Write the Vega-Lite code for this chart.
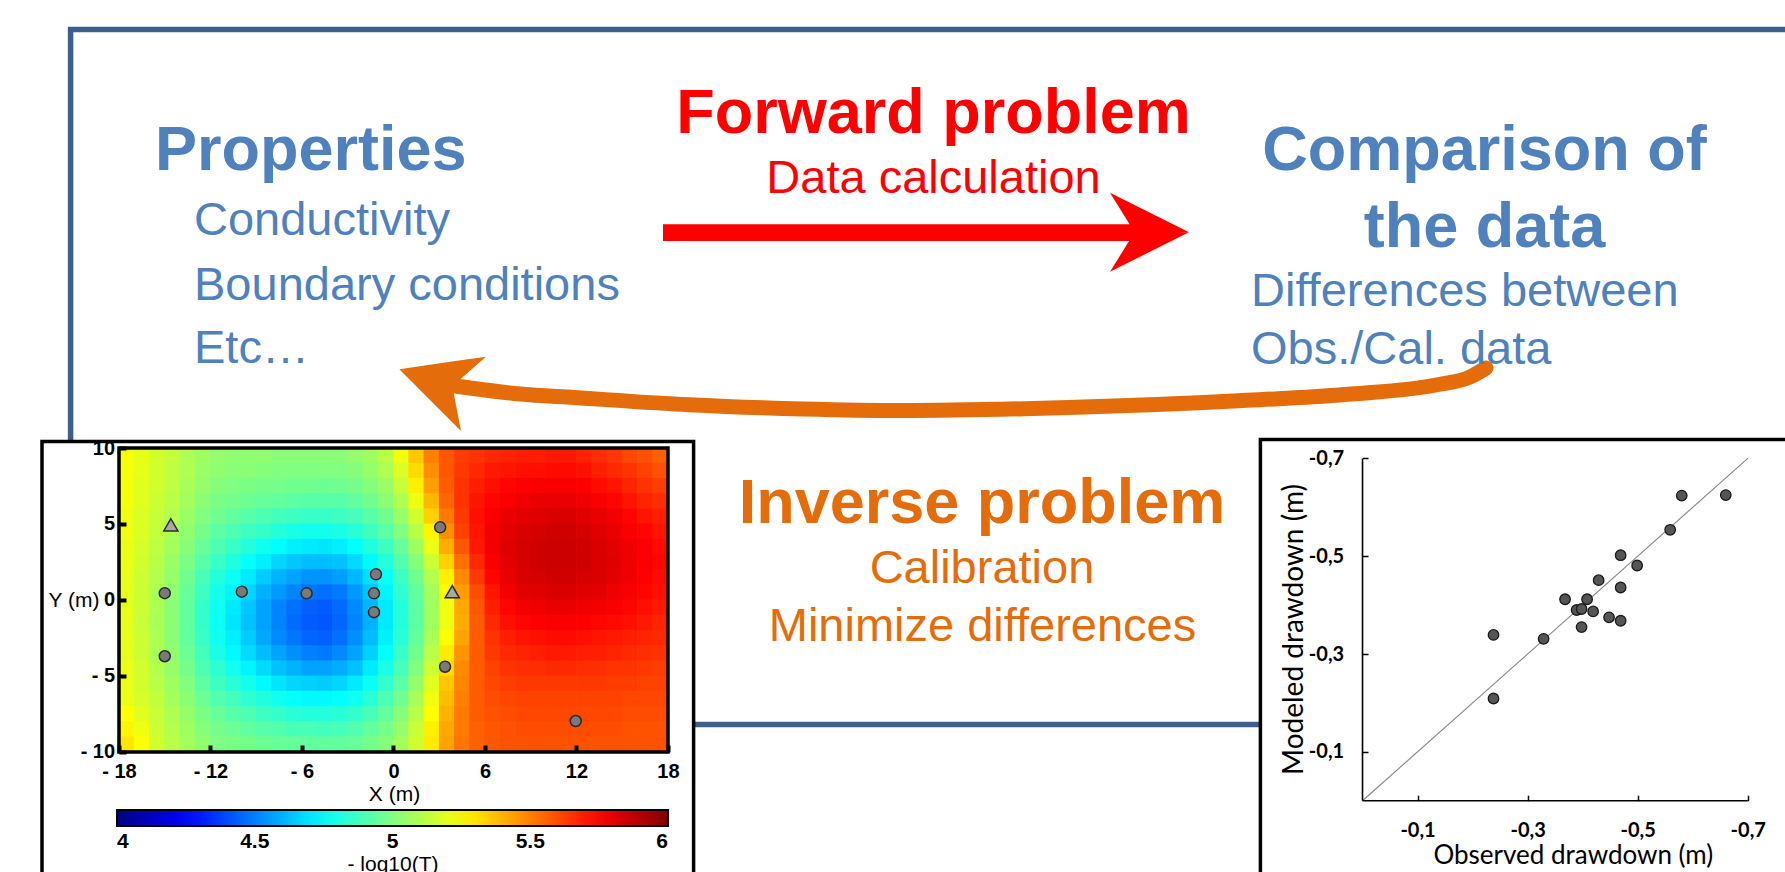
{
"$schema": "https://vega.github.io/schema/vega-lite/v6.json",
"width": 1785, "height": 872, "padding": 0, "autosize": {"type": "none"},
"background": "white",
"config": {"view": {"stroke": null}, "font": "Liberation Sans"},
"datasets": {
"frame": [{"x": 70.6, "x2": 1840, "y": 29.5, "y2": 724.5}],
"panels": [{"x": 42, "x2": 693.6, "y": 441.5, "y2": 905}, {"x": 1260.4, "x2": 1840, "y": 439.5, "y2": 905}],
"shafts": [{"x": 663, "x2": 1136, "y": 224.3, "y2": 241, "tone": "red"}],
"curve": [{"x": 452, "y": 385.5, "tone": "orange"}, {"x": 520, "y": 394, "tone": "orange"}, {"x": 574, "y": 397.5, "tone": "orange"}, {"x": 689, "y": 404.8, "tone": "orange"}, {"x": 803.6, "y": 409, "tone": "orange"}, {"x": 900, "y": 410.5, "tone": "orange"}, {"x": 1069, "y": 407.5, "tone": "orange"}, {"x": 1238.6, "y": 400.8, "tone": "orange"}, {"x": 1351.5, "y": 394, "tone": "orange"}, {"x": 1436, "y": 385, "tone": "orange"}, {"x": 1470, "y": 377, "tone": "orange"}, {"x": 1486, "y": 368, "tone": "orange"}],
"heads": [
{"x": 1110, "y": 192.7, "y2": 192.7, "part": "r1", "tone": "red"}, {"x": 1135, "y": 205.2, "y2": 233, "part": "r1", "tone": "red"}, {"x": 1189, "y": 232.3, "y2": 232.3, "part": "r1", "tone": "red"},
{"x": 1110, "y": 271.7, "y2": 271.7, "part": "r2", "tone": "red"}, {"x": 1135, "y": 231.6, "y2": 259.2, "part": "r2", "tone": "red"}, {"x": 1189, "y": 232.3, "y2": 232.3, "part": "r2", "tone": "red"},
{"x": 399.3, "y": 369.3, "y2": 369.3, "part": "o1", "tone": "orange"}, {"x": 452, "y": 361.6, "y2": 386.5, "part": "o1", "tone": "orange"}, {"x": 486, "y": 356.7, "y2": 356.7, "part": "o1", "tone": "orange"},
{"x": 399.3, "y": 369.3, "y2": 369.3, "part": "o2", "tone": "orange"}, {"x": 452, "y": 384.5, "y2": 422, "part": "o2", "tone": "orange"}, {"x": 461, "y": 431, "y2": 431, "part": "o2", "tone": "orange"}
],
"labels": [
{"text": "Properties", "x": 310.8, "y": 170, "level": "title", "tone": "blue"},
{"text": "Conductivity", "x": 194, "y": 235, "level": "detail", "tone": "blue"},
{"text": "Boundary conditions", "x": 194, "y": 300, "level": "detail", "tone": "blue"},
{"text": "Etc…", "x": 194, "y": 363, "level": "detail", "tone": "blue"},
{"text": "Forward problem", "x": 933.5, "y": 133, "level": "title", "tone": "red"},
{"text": "Data calculation", "x": 933.5, "y": 193, "level": "detail", "tone": "red"},
{"text": "Comparison of", "x": 1484.5, "y": 170, "level": "title", "tone": "blue"},
{"text": "the data", "x": 1484.5, "y": 246.7, "level": "title", "tone": "blue"},
{"text": "Differences between", "x": 1251, "y": 306, "level": "detail", "tone": "blue"},
{"text": "Obs./Cal. data", "x": 1251, "y": 364, "level": "detail", "tone": "blue"},
{"text": "Inverse problem", "x": 982, "y": 522.7, "level": "title", "tone": "orange"},
{"text": "Calibration", "x": 982, "y": 583.3, "level": "detail", "tone": "orange"},
{"text": "Minimize differences", "x": 982.5, "y": 641, "level": "detail", "tone": "orange"}
],
"heatFrame": [{"x": -18, "x2": 18, "y": -10, "y2": 10}],
"wells": [
{"x": -15, "y": 0.45, "kind": "observation"}, {"x": -15, "y": -3.7, "kind": "observation"}, {"x": -9.95, "y": 0.55, "kind": "observation"}, {"x": -5.7, "y": 0.44, "kind": "observation"}, {"x": -1.15, "y": 1.69, "kind": "observation"}, {"x": -1.28, "y": 0.44, "kind": "observation"}, {"x": -1.28, "y": -0.8, "kind": "observation"}, {"x": 3.06, "y": 4.78, "kind": "observation"}, {"x": 3.38, "y": -4.39, "kind": "observation"}, {"x": 11.95, "y": -7.96, "kind": "observation"},
{"x": -14.6, "y": 4.95, "kind": "pumping"}, {"x": 3.85, "y": 0.55, "kind": "pumping"}
],
"drawdown": [
{"obs": -0.238, "mod": -0.339}, {"obs": -0.238, "mod": -0.209}, {"obs": -0.329, "mod": -0.331}, {"obs": -0.368, "mod": -0.412}, {"obs": -0.389, "mod": -0.39}, {"obs": -0.398, "mod": -0.392}, {"obs": -0.398, "mod": -0.355}, {"obs": -0.408, "mod": -0.412}, {"obs": -0.419, "mod": -0.387}, {"obs": -0.429, "mod": -0.451}, {"obs": -0.448, "mod": -0.375}, {"obs": -0.469, "mod": -0.368}, {"obs": -0.469, "mod": -0.436}, {"obs": -0.469, "mod": -0.502}, {"obs": -0.499, "mod": -0.481}, {"obs": -0.559, "mod": -0.554}, {"obs": -0.58, "mod": -0.624}, {"obs": -0.66, "mod": -0.625}
],
"scatterGuides": [
{"obs": 0, "mod": 0, "obs2": -0.7, "mod2": -0.7, "kind": "diag"},
{"obs": 0, "mod": 0, "obs2": -0.7, "mod2": 0, "kind": "axis"},
{"obs": 0, "mod": 0, "obs2": 0, "mod2": -0.7, "kind": "axis"}
],
"heat": [
{"x":-17.5,"y":9.5,"v":5.23},{"x":-16.5,"y":9.5,"v":5.2},{"x":-15.5,"y":9.5,"v":5.16},{"x":-14.5,"y":9.5,"v":5.13},{"x":-13.5,"y":9.5,"v":5.09},{"x":-12.5,"y":9.5,"v":5.06},{"x":-11.5,"y":9.5,"v":5.04},{"x":-10.5,"y":9.5,"v":5.03},{"x":-9.5,"y":9.5,"v":5.03},{"x":-8.5,"y":9.5,"v":5.03},{"x":-7.5,"y":9.5,"v":5.02},{"x":-6.5,"y":9.5,"v":5.02},{"x":-5.5,"y":9.5,"v":5.02},{"x":-4.5,"y":9.5,"v":5.02},{"x":-3.5,"y":9.5,"v":5.02},{"x":-2.5,"y":9.5,"v":5.04},{"x":-1.5,"y":9.5,"v":5.06},{"x":-0.5,"y":9.5,"v":5.11},{"x":0.5,"y":9.5,"v":5.22},{"x":1.5,"y":9.5,"v":5.36},{"x":2.5,"y":9.5,"v":5.5},{"x":3.5,"y":9.5,"v":5.58},{"x":4.5,"y":9.5,"v":5.63},{"x":5.5,"y":9.5,"v":5.65},{"x":6.5,"y":9.5,"v":5.67},{"x":7.5,"y":9.5,"v":5.68},{"x":8.5,"y":9.5,"v":5.69},{"x":9.5,"y":9.5,"v":5.69},{"x":10.5,"y":9.5,"v":5.7},{"x":11.5,"y":9.5,"v":5.7},{"x":12.5,"y":9.5,"v":5.68},{"x":13.5,"y":9.5,"v":5.66},{"x":14.5,"y":9.5,"v":5.64},{"x":15.5,"y":9.5,"v":5.61},{"x":16.5,"y":9.5,"v":5.59},{"x":17.5,"y":9.5,"v":5.56},
{"x":-17.5,"y":8.5,"v":5.23},{"x":-16.5,"y":8.5,"v":5.2},{"x":-15.5,"y":8.5,"v":5.16},{"x":-14.5,"y":8.5,"v":5.12},{"x":-13.5,"y":8.5,"v":5.09},{"x":-12.5,"y":8.5,"v":5.05},{"x":-11.5,"y":8.5,"v":5.03},{"x":-10.5,"y":8.5,"v":5.02},{"x":-9.5,"y":8.5,"v":5.02},{"x":-8.5,"y":8.5,"v":5.01},{"x":-7.5,"y":8.5,"v":5.0},{"x":-6.5,"y":8.5,"v":5.0},{"x":-5.5,"y":8.5,"v":5.0},{"x":-4.5,"y":8.5,"v":5.0},{"x":-3.5,"y":8.5,"v":5.0},{"x":-2.5,"y":8.5,"v":5.01},{"x":-1.5,"y":8.5,"v":5.04},{"x":-0.5,"y":8.5,"v":5.09},{"x":0.5,"y":8.5,"v":5.18},{"x":1.5,"y":8.5,"v":5.32},{"x":2.5,"y":8.5,"v":5.47},{"x":3.5,"y":8.5,"v":5.58},{"x":4.5,"y":8.5,"v":5.64},{"x":5.5,"y":8.5,"v":5.67},{"x":6.5,"y":8.5,"v":5.7},{"x":7.5,"y":8.5,"v":5.71},{"x":8.5,"y":8.5,"v":5.72},{"x":9.5,"y":8.5,"v":5.72},{"x":10.5,"y":8.5,"v":5.73},{"x":11.5,"y":8.5,"v":5.73},{"x":12.5,"y":8.5,"v":5.72},{"x":13.5,"y":8.5,"v":5.69},{"x":14.5,"y":8.5,"v":5.67},{"x":15.5,"y":8.5,"v":5.65},{"x":16.5,"y":8.5,"v":5.62},{"x":17.5,"y":8.5,"v":5.59},
{"x":-17.5,"y":7.5,"v":5.23},{"x":-16.5,"y":7.5,"v":5.19},{"x":-15.5,"y":7.5,"v":5.16},{"x":-14.5,"y":7.5,"v":5.12},{"x":-13.5,"y":7.5,"v":5.08},{"x":-12.5,"y":7.5,"v":5.04},{"x":-11.5,"y":7.5,"v":5.01},{"x":-10.5,"y":7.5,"v":5.0},{"x":-9.5,"y":7.5,"v":4.99},{"x":-8.5,"y":7.5,"v":4.98},{"x":-7.5,"y":7.5,"v":4.98},{"x":-6.5,"y":7.5,"v":4.97},{"x":-5.5,"y":7.5,"v":4.97},{"x":-4.5,"y":7.5,"v":4.96},{"x":-3.5,"y":7.5,"v":4.97},{"x":-2.5,"y":7.5,"v":4.98},{"x":-1.5,"y":7.5,"v":5.01},{"x":-0.5,"y":7.5,"v":5.05},{"x":0.5,"y":7.5,"v":5.14},{"x":1.5,"y":7.5,"v":5.28},{"x":2.5,"y":7.5,"v":5.44},{"x":3.5,"y":7.5,"v":5.57},{"x":4.5,"y":7.5,"v":5.65},{"x":5.5,"y":7.5,"v":5.69},{"x":6.5,"y":7.5,"v":5.72},{"x":7.5,"y":7.5,"v":5.74},{"x":8.5,"y":7.5,"v":5.75},{"x":9.5,"y":7.5,"v":5.76},{"x":10.5,"y":7.5,"v":5.76},{"x":11.5,"y":7.5,"v":5.76},{"x":12.5,"y":7.5,"v":5.75},{"x":13.5,"y":7.5,"v":5.73},{"x":14.5,"y":7.5,"v":5.71},{"x":15.5,"y":7.5,"v":5.68},{"x":16.5,"y":7.5,"v":5.65},{"x":17.5,"y":7.5,"v":5.63},
{"x":-17.5,"y":6.5,"v":5.23},{"x":-16.5,"y":6.5,"v":5.19},{"x":-15.5,"y":6.5,"v":5.15},{"x":-14.5,"y":6.5,"v":5.11},{"x":-13.5,"y":6.5,"v":5.07},{"x":-12.5,"y":6.5,"v":5.02},{"x":-11.5,"y":6.5,"v":4.99},{"x":-10.5,"y":6.5,"v":4.98},{"x":-9.5,"y":6.5,"v":4.96},{"x":-8.5,"y":6.5,"v":4.95},{"x":-7.5,"y":6.5,"v":4.94},{"x":-6.5,"y":6.5,"v":4.93},{"x":-5.5,"y":6.5,"v":4.92},{"x":-4.5,"y":6.5,"v":4.92},{"x":-3.5,"y":6.5,"v":4.92},{"x":-2.5,"y":6.5,"v":4.94},{"x":-1.5,"y":6.5,"v":4.97},{"x":-0.5,"y":6.5,"v":5.02},{"x":0.5,"y":6.5,"v":5.09},{"x":1.5,"y":6.5,"v":5.22},{"x":2.5,"y":6.5,"v":5.39},{"x":3.5,"y":6.5,"v":5.55},{"x":4.5,"y":6.5,"v":5.65},{"x":5.5,"y":6.5,"v":5.71},{"x":6.5,"y":6.5,"v":5.74},{"x":7.5,"y":6.5,"v":5.76},{"x":8.5,"y":6.5,"v":5.78},{"x":9.5,"y":6.5,"v":5.79},{"x":10.5,"y":6.5,"v":5.79},{"x":11.5,"y":6.5,"v":5.79},{"x":12.5,"y":6.5,"v":5.78},{"x":13.5,"y":6.5,"v":5.76},{"x":14.5,"y":6.5,"v":5.74},{"x":15.5,"y":6.5,"v":5.71},{"x":16.5,"y":6.5,"v":5.68},{"x":17.5,"y":6.5,"v":5.66},
{"x":-17.5,"y":5.5,"v":5.22},{"x":-16.5,"y":5.5,"v":5.18},{"x":-15.5,"y":5.5,"v":5.14},{"x":-14.5,"y":5.5,"v":5.1},{"x":-13.5,"y":5.5,"v":5.05},{"x":-12.5,"y":5.5,"v":5.0},{"x":-11.5,"y":5.5,"v":4.97},{"x":-10.5,"y":5.5,"v":4.94},{"x":-9.5,"y":5.5,"v":4.92},{"x":-8.5,"y":5.5,"v":4.9},{"x":-7.5,"y":5.5,"v":4.88},{"x":-6.5,"y":5.5,"v":4.87},{"x":-5.5,"y":5.5,"v":4.86},{"x":-4.5,"y":5.5,"v":4.86},{"x":-3.5,"y":5.5,"v":4.87},{"x":-2.5,"y":5.5,"v":4.89},{"x":-1.5,"y":5.5,"v":4.92},{"x":-0.5,"y":5.5,"v":4.97},{"x":0.5,"y":5.5,"v":5.05},{"x":1.5,"y":5.5,"v":5.16},{"x":2.5,"y":5.5,"v":5.34},{"x":3.5,"y":5.5,"v":5.51},{"x":4.5,"y":5.5,"v":5.64},{"x":5.5,"y":5.5,"v":5.72},{"x":6.5,"y":5.5,"v":5.76},{"x":7.5,"y":5.5,"v":5.79},{"x":8.5,"y":5.5,"v":5.8},{"x":9.5,"y":5.5,"v":5.81},{"x":10.5,"y":5.5,"v":5.82},{"x":11.5,"y":5.5,"v":5.82},{"x":12.5,"y":5.5,"v":5.81},{"x":13.5,"y":5.5,"v":5.79},{"x":14.5,"y":5.5,"v":5.77},{"x":15.5,"y":5.5,"v":5.74},{"x":16.5,"y":5.5,"v":5.71},{"x":17.5,"y":5.5,"v":5.69},
{"x":-17.5,"y":4.5,"v":5.22},{"x":-16.5,"y":4.5,"v":5.18},{"x":-15.5,"y":4.5,"v":5.13},{"x":-14.5,"y":4.5,"v":5.08},{"x":-13.5,"y":4.5,"v":5.03},{"x":-12.5,"y":4.5,"v":4.98},{"x":-11.5,"y":4.5,"v":4.93},{"x":-10.5,"y":4.5,"v":4.9},{"x":-9.5,"y":4.5,"v":4.87},{"x":-8.5,"y":4.5,"v":4.85},{"x":-7.5,"y":4.5,"v":4.82},{"x":-6.5,"y":4.5,"v":4.8},{"x":-5.5,"y":4.5,"v":4.79},{"x":-4.5,"y":4.5,"v":4.79},{"x":-3.5,"y":4.5,"v":4.8},{"x":-2.5,"y":4.5,"v":4.83},{"x":-1.5,"y":4.5,"v":4.87},{"x":-0.5,"y":4.5,"v":4.93},{"x":0.5,"y":4.5,"v":5.0},{"x":1.5,"y":4.5,"v":5.11},{"x":2.5,"y":4.5,"v":5.27},{"x":3.5,"y":4.5,"v":5.47},{"x":4.5,"y":4.5,"v":5.62},{"x":5.5,"y":4.5,"v":5.71},{"x":6.5,"y":4.5,"v":5.77},{"x":7.5,"y":4.5,"v":5.8},{"x":8.5,"y":4.5,"v":5.82},{"x":9.5,"y":4.5,"v":5.83},{"x":10.5,"y":4.5,"v":5.84},{"x":11.5,"y":4.5,"v":5.84},{"x":12.5,"y":4.5,"v":5.83},{"x":13.5,"y":4.5,"v":5.81},{"x":14.5,"y":4.5,"v":5.79},{"x":15.5,"y":4.5,"v":5.76},{"x":16.5,"y":4.5,"v":5.74},{"x":17.5,"y":4.5,"v":5.71},
{"x":-17.5,"y":3.5,"v":5.21},{"x":-16.5,"y":3.5,"v":5.17},{"x":-15.5,"y":3.5,"v":5.12},{"x":-14.5,"y":3.5,"v":5.07},{"x":-13.5,"y":3.5,"v":5.01},{"x":-12.5,"y":3.5,"v":4.95},{"x":-11.5,"y":3.5,"v":4.9},{"x":-10.5,"y":3.5,"v":4.86},{"x":-9.5,"y":3.5,"v":4.82},{"x":-8.5,"y":3.5,"v":4.78},{"x":-7.5,"y":3.5,"v":4.75},{"x":-6.5,"y":3.5,"v":4.72},{"x":-5.5,"y":3.5,"v":4.71},{"x":-4.5,"y":3.5,"v":4.7},{"x":-3.5,"y":3.5,"v":4.72},{"x":-2.5,"y":3.5,"v":4.75},{"x":-1.5,"y":3.5,"v":4.81},{"x":-0.5,"y":3.5,"v":4.87},{"x":0.5,"y":3.5,"v":4.95},{"x":1.5,"y":3.5,"v":5.06},{"x":2.5,"y":3.5,"v":5.21},{"x":3.5,"y":3.5,"v":5.41},{"x":4.5,"y":3.5,"v":5.58},{"x":5.5,"y":3.5,"v":5.7},{"x":6.5,"y":3.5,"v":5.77},{"x":7.5,"y":3.5,"v":5.81},{"x":8.5,"y":3.5,"v":5.83},{"x":9.5,"y":3.5,"v":5.84},{"x":10.5,"y":3.5,"v":5.85},{"x":11.5,"y":3.5,"v":5.85},{"x":12.5,"y":3.5,"v":5.84},{"x":13.5,"y":3.5,"v":5.82},{"x":14.5,"y":3.5,"v":5.8},{"x":15.5,"y":3.5,"v":5.78},{"x":16.5,"y":3.5,"v":5.76},{"x":17.5,"y":3.5,"v":5.73},
{"x":-17.5,"y":2.5,"v":5.21},{"x":-16.5,"y":2.5,"v":5.16},{"x":-15.5,"y":2.5,"v":5.11},{"x":-14.5,"y":2.5,"v":5.05},{"x":-13.5,"y":2.5,"v":4.99},{"x":-12.5,"y":2.5,"v":4.92},{"x":-11.5,"y":2.5,"v":4.86},{"x":-10.5,"y":2.5,"v":4.81},{"x":-9.5,"y":2.5,"v":4.76},{"x":-8.5,"y":2.5,"v":4.72},{"x":-7.5,"y":2.5,"v":4.67},{"x":-6.5,"y":2.5,"v":4.64},{"x":-5.5,"y":2.5,"v":4.62},{"x":-4.5,"y":2.5,"v":4.62},{"x":-3.5,"y":2.5,"v":4.63},{"x":-2.5,"y":2.5,"v":4.68},{"x":-1.5,"y":2.5,"v":4.74},{"x":-0.5,"y":2.5,"v":4.82},{"x":0.5,"y":2.5,"v":4.91},{"x":1.5,"y":2.5,"v":5.01},{"x":2.5,"y":2.5,"v":5.15},{"x":3.5,"y":2.5,"v":5.34},{"x":4.5,"y":2.5,"v":5.53},{"x":5.5,"y":2.5,"v":5.67},{"x":6.5,"y":2.5,"v":5.76},{"x":7.5,"y":2.5,"v":5.8},{"x":8.5,"y":2.5,"v":5.83},{"x":9.5,"y":2.5,"v":5.84},{"x":10.5,"y":2.5,"v":5.85},{"x":11.5,"y":2.5,"v":5.85},{"x":12.5,"y":2.5,"v":5.84},{"x":13.5,"y":2.5,"v":5.82},{"x":14.5,"y":2.5,"v":5.81},{"x":15.5,"y":2.5,"v":5.78},{"x":16.5,"y":2.5,"v":5.76},{"x":17.5,"y":2.5,"v":5.74},
{"x":-17.5,"y":1.5,"v":5.2},{"x":-16.5,"y":1.5,"v":5.15},{"x":-15.5,"y":1.5,"v":5.1},{"x":-14.5,"y":1.5,"v":5.04},{"x":-13.5,"y":1.5,"v":4.97},{"x":-12.5,"y":1.5,"v":4.89},{"x":-11.5,"y":1.5,"v":4.82},{"x":-10.5,"y":1.5,"v":4.77},{"x":-9.5,"y":1.5,"v":4.71},{"x":-8.5,"y":1.5,"v":4.65},{"x":-7.5,"y":1.5,"v":4.6},{"x":-6.5,"y":1.5,"v":4.57},{"x":-5.5,"y":1.5,"v":4.54},{"x":-4.5,"y":1.5,"v":4.54},{"x":-3.5,"y":1.5,"v":4.56},{"x":-2.5,"y":1.5,"v":4.61},{"x":-1.5,"y":1.5,"v":4.69},{"x":-0.5,"y":1.5,"v":4.77},{"x":0.5,"y":1.5,"v":4.87},{"x":1.5,"y":1.5,"v":4.97},{"x":2.5,"y":1.5,"v":5.1},{"x":3.5,"y":1.5,"v":5.28},{"x":4.5,"y":1.5,"v":5.48},{"x":5.5,"y":1.5,"v":5.64},{"x":6.5,"y":1.5,"v":5.74},{"x":7.5,"y":1.5,"v":5.79},{"x":8.5,"y":1.5,"v":5.82},{"x":9.5,"y":1.5,"v":5.83},{"x":10.5,"y":1.5,"v":5.84},{"x":11.5,"y":1.5,"v":5.84},{"x":12.5,"y":1.5,"v":5.83},{"x":13.5,"y":1.5,"v":5.82},{"x":14.5,"y":1.5,"v":5.8},{"x":15.5,"y":1.5,"v":5.78},{"x":16.5,"y":1.5,"v":5.75},{"x":17.5,"y":1.5,"v":5.73},
{"x":-17.5,"y":0.5,"v":5.2},{"x":-16.5,"y":0.5,"v":5.15},{"x":-15.5,"y":0.5,"v":5.09},{"x":-14.5,"y":0.5,"v":5.03},{"x":-13.5,"y":0.5,"v":4.95},{"x":-12.5,"y":0.5,"v":4.87},{"x":-11.5,"y":0.5,"v":4.79},{"x":-10.5,"y":0.5,"v":4.73},{"x":-9.5,"y":0.5,"v":4.67},{"x":-8.5,"y":0.5,"v":4.6},{"x":-7.5,"y":0.5,"v":4.55},{"x":-6.5,"y":0.5,"v":4.51},{"x":-5.5,"y":0.5,"v":4.48},{"x":-4.5,"y":0.5,"v":4.47},{"x":-3.5,"y":0.5,"v":4.49},{"x":-2.5,"y":0.5,"v":4.55},{"x":-1.5,"y":0.5,"v":4.64},{"x":-0.5,"y":0.5,"v":4.73},{"x":0.5,"y":0.5,"v":4.84},{"x":1.5,"y":0.5,"v":4.94},{"x":2.5,"y":0.5,"v":5.07},{"x":3.5,"y":0.5,"v":5.24},{"x":4.5,"y":0.5,"v":5.44},{"x":5.5,"y":0.5,"v":5.6},{"x":6.5,"y":0.5,"v":5.71},{"x":7.5,"y":0.5,"v":5.77},{"x":8.5,"y":0.5,"v":5.8},{"x":9.5,"y":0.5,"v":5.81},{"x":10.5,"y":0.5,"v":5.82},{"x":11.5,"y":0.5,"v":5.82},{"x":12.5,"y":0.5,"v":5.81},{"x":13.5,"y":0.5,"v":5.8},{"x":14.5,"y":0.5,"v":5.78},{"x":15.5,"y":0.5,"v":5.76},{"x":16.5,"y":0.5,"v":5.74},{"x":17.5,"y":0.5,"v":5.72},
{"x":-17.5,"y":-0.5,"v":5.2},{"x":-16.5,"y":-0.5,"v":5.15},{"x":-15.5,"y":-0.5,"v":5.09},{"x":-14.5,"y":-0.5,"v":5.02},{"x":-13.5,"y":-0.5,"v":4.94},{"x":-12.5,"y":-0.5,"v":4.85},{"x":-11.5,"y":-0.5,"v":4.78},{"x":-10.5,"y":-0.5,"v":4.71},{"x":-9.5,"y":-0.5,"v":4.64},{"x":-8.5,"y":-0.5,"v":4.57},{"x":-7.5,"y":-0.5,"v":4.51},{"x":-6.5,"y":-0.5,"v":4.47},{"x":-5.5,"y":-0.5,"v":4.44},{"x":-4.5,"y":-0.5,"v":4.43},{"x":-3.5,"y":-0.5,"v":4.46},{"x":-2.5,"y":-0.5,"v":4.52},{"x":-1.5,"y":-0.5,"v":4.61},{"x":-0.5,"y":-0.5,"v":4.71},{"x":0.5,"y":-0.5,"v":4.82},{"x":1.5,"y":-0.5,"v":4.93},{"x":2.5,"y":-0.5,"v":5.06},{"x":3.5,"y":-0.5,"v":5.22},{"x":4.5,"y":-0.5,"v":5.42},{"x":5.5,"y":-0.5,"v":5.58},{"x":6.5,"y":-0.5,"v":5.69},{"x":7.5,"y":-0.5,"v":5.74},{"x":8.5,"y":-0.5,"v":5.77},{"x":9.5,"y":-0.5,"v":5.78},{"x":10.5,"y":-0.5,"v":5.79},{"x":11.5,"y":-0.5,"v":5.79},{"x":12.5,"y":-0.5,"v":5.78},{"x":13.5,"y":-0.5,"v":5.77},{"x":14.5,"y":-0.5,"v":5.76},{"x":15.5,"y":-0.5,"v":5.74},{"x":16.5,"y":-0.5,"v":5.72},{"x":17.5,"y":-0.5,"v":5.7},
{"x":-17.5,"y":-1.5,"v":5.2},{"x":-16.5,"y":-1.5,"v":5.14},{"x":-15.5,"y":-1.5,"v":5.08},{"x":-14.5,"y":-1.5,"v":5.02},{"x":-13.5,"y":-1.5,"v":4.94},{"x":-12.5,"y":-1.5,"v":4.85},{"x":-11.5,"y":-1.5,"v":4.77},{"x":-10.5,"y":-1.5,"v":4.7},{"x":-9.5,"y":-1.5,"v":4.63},{"x":-8.5,"y":-1.5,"v":4.57},{"x":-7.5,"y":-1.5,"v":4.51},{"x":-6.5,"y":-1.5,"v":4.46},{"x":-5.5,"y":-1.5,"v":4.43},{"x":-4.5,"y":-1.5,"v":4.42},{"x":-3.5,"y":-1.5,"v":4.45},{"x":-2.5,"y":-1.5,"v":4.51},{"x":-1.5,"y":-1.5,"v":4.6},{"x":-0.5,"y":-1.5,"v":4.71},{"x":0.5,"y":-1.5,"v":4.82},{"x":1.5,"y":-1.5,"v":4.93},{"x":2.5,"y":-1.5,"v":5.06},{"x":3.5,"y":-1.5,"v":5.22},{"x":4.5,"y":-1.5,"v":5.41},{"x":5.5,"y":-1.5,"v":5.57},{"x":6.5,"y":-1.5,"v":5.67},{"x":7.5,"y":-1.5,"v":5.72},{"x":8.5,"y":-1.5,"v":5.74},{"x":9.5,"y":-1.5,"v":5.75},{"x":10.5,"y":-1.5,"v":5.76},{"x":11.5,"y":-1.5,"v":5.76},{"x":12.5,"y":-1.5,"v":5.75},{"x":13.5,"y":-1.5,"v":5.74},{"x":14.5,"y":-1.5,"v":5.73},{"x":15.5,"y":-1.5,"v":5.72},{"x":16.5,"y":-1.5,"v":5.7},{"x":17.5,"y":-1.5,"v":5.68},
{"x":-17.5,"y":-2.5,"v":5.2},{"x":-16.5,"y":-2.5,"v":5.15},{"x":-15.5,"y":-2.5,"v":5.09},{"x":-14.5,"y":-2.5,"v":5.02},{"x":-13.5,"y":-2.5,"v":4.94},{"x":-12.5,"y":-2.5,"v":4.86},{"x":-11.5,"y":-2.5,"v":4.78},{"x":-10.5,"y":-2.5,"v":4.72},{"x":-9.5,"y":-2.5,"v":4.65},{"x":-8.5,"y":-2.5,"v":4.58},{"x":-7.5,"y":-2.5,"v":4.52},{"x":-6.5,"y":-2.5,"v":4.48},{"x":-5.5,"y":-2.5,"v":4.45},{"x":-4.5,"y":-2.5,"v":4.44},{"x":-3.5,"y":-2.5,"v":4.47},{"x":-2.5,"y":-2.5,"v":4.53},{"x":-1.5,"y":-2.5,"v":4.62},{"x":-0.5,"y":-2.5,"v":4.72},{"x":0.5,"y":-2.5,"v":4.83},{"x":1.5,"y":-2.5,"v":4.94},{"x":2.5,"y":-2.5,"v":5.08},{"x":3.5,"y":-2.5,"v":5.25},{"x":4.5,"y":-2.5,"v":5.43},{"x":5.5,"y":-2.5,"v":5.57},{"x":6.5,"y":-2.5,"v":5.65},{"x":7.5,"y":-2.5,"v":5.69},{"x":8.5,"y":-2.5,"v":5.71},{"x":9.5,"y":-2.5,"v":5.72},{"x":10.5,"y":-2.5,"v":5.73},{"x":11.5,"y":-2.5,"v":5.73},{"x":12.5,"y":-2.5,"v":5.72},{"x":13.5,"y":-2.5,"v":5.71},{"x":14.5,"y":-2.5,"v":5.7},{"x":15.5,"y":-2.5,"v":5.69},{"x":16.5,"y":-2.5,"v":5.68},{"x":17.5,"y":-2.5,"v":5.67},
{"x":-17.5,"y":-3.5,"v":5.2},{"x":-16.5,"y":-3.5,"v":5.15},{"x":-15.5,"y":-3.5,"v":5.09},{"x":-14.5,"y":-3.5,"v":5.03},{"x":-13.5,"y":-3.5,"v":4.96},{"x":-12.5,"y":-3.5,"v":4.88},{"x":-11.5,"y":-3.5,"v":4.8},{"x":-10.5,"y":-3.5,"v":4.74},{"x":-9.5,"y":-3.5,"v":4.68},{"x":-8.5,"y":-3.5,"v":4.62},{"x":-7.5,"y":-3.5,"v":4.57},{"x":-6.5,"y":-3.5,"v":4.53},{"x":-5.5,"y":-3.5,"v":4.5},{"x":-4.5,"y":-3.5,"v":4.49},{"x":-3.5,"y":-3.5,"v":4.52},{"x":-2.5,"y":-3.5,"v":4.57},{"x":-1.5,"y":-3.5,"v":4.66},{"x":-0.5,"y":-3.5,"v":4.75},{"x":0.5,"y":-3.5,"v":4.86},{"x":1.5,"y":-3.5,"v":4.97},{"x":2.5,"y":-3.5,"v":5.11},{"x":3.5,"y":-3.5,"v":5.29},{"x":4.5,"y":-3.5,"v":5.46},{"x":5.5,"y":-3.5,"v":5.57},{"x":6.5,"y":-3.5,"v":5.64},{"x":7.5,"y":-3.5,"v":5.67},{"x":8.5,"y":-3.5,"v":5.68},{"x":9.5,"y":-3.5,"v":5.69},{"x":10.5,"y":-3.5,"v":5.7},{"x":11.5,"y":-3.5,"v":5.7},{"x":12.5,"y":-3.5,"v":5.69},{"x":13.5,"y":-3.5,"v":5.69},{"x":14.5,"y":-3.5,"v":5.68},{"x":15.5,"y":-3.5,"v":5.67},{"x":16.5,"y":-3.5,"v":5.66},{"x":17.5,"y":-3.5,"v":5.65},
{"x":-17.5,"y":-4.5,"v":5.21},{"x":-16.5,"y":-4.5,"v":5.16},{"x":-15.5,"y":-4.5,"v":5.1},{"x":-14.5,"y":-4.5,"v":5.04},{"x":-13.5,"y":-4.5,"v":4.98},{"x":-12.5,"y":-4.5,"v":4.9},{"x":-11.5,"y":-4.5,"v":4.84},{"x":-10.5,"y":-4.5,"v":4.78},{"x":-9.5,"y":-4.5,"v":4.73},{"x":-8.5,"y":-4.5,"v":4.68},{"x":-7.5,"y":-4.5,"v":4.63},{"x":-6.5,"y":-4.5,"v":4.6},{"x":-5.5,"y":-4.5,"v":4.57},{"x":-4.5,"y":-4.5,"v":4.57},{"x":-3.5,"y":-4.5,"v":4.59},{"x":-2.5,"y":-4.5,"v":4.63},{"x":-1.5,"y":-4.5,"v":4.71},{"x":-0.5,"y":-4.5,"v":4.8},{"x":0.5,"y":-4.5,"v":4.89},{"x":1.5,"y":-4.5,"v":5.0},{"x":2.5,"y":-4.5,"v":5.15},{"x":3.5,"y":-4.5,"v":5.32},{"x":4.5,"y":-4.5,"v":5.48},{"x":5.5,"y":-4.5,"v":5.57},{"x":6.5,"y":-4.5,"v":5.62},{"x":7.5,"y":-4.5,"v":5.65},{"x":8.5,"y":-4.5,"v":5.66},{"x":9.5,"y":-4.5,"v":5.66},{"x":10.5,"y":-4.5,"v":5.67},{"x":11.5,"y":-4.5,"v":5.67},{"x":12.5,"y":-4.5,"v":5.66},{"x":13.5,"y":-4.5,"v":5.66},{"x":14.5,"y":-4.5,"v":5.65},{"x":15.5,"y":-4.5,"v":5.65},{"x":16.5,"y":-4.5,"v":5.64},{"x":17.5,"y":-4.5,"v":5.63},
{"x":-17.5,"y":-5.5,"v":5.21},{"x":-16.5,"y":-5.5,"v":5.16},{"x":-15.5,"y":-5.5,"v":5.11},{"x":-14.5,"y":-5.5,"v":5.06},{"x":-13.5,"y":-5.5,"v":5.0},{"x":-12.5,"y":-5.5,"v":4.93},{"x":-11.5,"y":-5.5,"v":4.87},{"x":-10.5,"y":-5.5,"v":4.83},{"x":-9.5,"y":-5.5,"v":4.79},{"x":-8.5,"y":-5.5,"v":4.74},{"x":-7.5,"y":-5.5,"v":4.7},{"x":-6.5,"y":-5.5,"v":4.67},{"x":-5.5,"y":-5.5,"v":4.66},{"x":-4.5,"y":-5.5,"v":4.65},{"x":-3.5,"y":-5.5,"v":4.67},{"x":-2.5,"y":-5.5,"v":4.71},{"x":-1.5,"y":-5.5,"v":4.77},{"x":-0.5,"y":-5.5,"v":4.85},{"x":0.5,"y":-5.5,"v":4.93},{"x":1.5,"y":-5.5,"v":5.04},{"x":2.5,"y":-5.5,"v":5.19},{"x":3.5,"y":-5.5,"v":5.36},{"x":4.5,"y":-5.5,"v":5.49},{"x":5.5,"y":-5.5,"v":5.57},{"x":6.5,"y":-5.5,"v":5.61},{"x":7.5,"y":-5.5,"v":5.63},{"x":8.5,"y":-5.5,"v":5.64},{"x":9.5,"y":-5.5,"v":5.64},{"x":10.5,"y":-5.5,"v":5.64},{"x":11.5,"y":-5.5,"v":5.64},{"x":12.5,"y":-5.5,"v":5.64},{"x":13.5,"y":-5.5,"v":5.64},{"x":14.5,"y":-5.5,"v":5.63},{"x":15.5,"y":-5.5,"v":5.63},{"x":16.5,"y":-5.5,"v":5.62},{"x":17.5,"y":-5.5,"v":5.62},
{"x":-17.5,"y":-6.5,"v":5.21},{"x":-16.5,"y":-6.5,"v":5.17},{"x":-15.5,"y":-6.5,"v":5.13},{"x":-14.5,"y":-6.5,"v":5.07},{"x":-13.5,"y":-6.5,"v":5.02},{"x":-12.5,"y":-6.5,"v":4.96},{"x":-11.5,"y":-6.5,"v":4.91},{"x":-10.5,"y":-6.5,"v":4.88},{"x":-9.5,"y":-6.5,"v":4.84},{"x":-8.5,"y":-6.5,"v":4.81},{"x":-7.5,"y":-6.5,"v":4.78},{"x":-6.5,"y":-6.5,"v":4.76},{"x":-5.5,"y":-6.5,"v":4.74},{"x":-4.5,"y":-6.5,"v":4.74},{"x":-3.5,"y":-6.5,"v":4.75},{"x":-2.5,"y":-6.5,"v":4.78},{"x":-1.5,"y":-6.5,"v":4.83},{"x":-0.5,"y":-6.5,"v":4.9},{"x":0.5,"y":-6.5,"v":4.97},{"x":1.5,"y":-6.5,"v":5.08},{"x":2.5,"y":-6.5,"v":5.22},{"x":3.5,"y":-6.5,"v":5.38},{"x":4.5,"y":-6.5,"v":5.5},{"x":5.5,"y":-6.5,"v":5.57},{"x":6.5,"y":-6.5,"v":5.6},{"x":7.5,"y":-6.5,"v":5.61},{"x":8.5,"y":-6.5,"v":5.62},{"x":9.5,"y":-6.5,"v":5.62},{"x":10.5,"y":-6.5,"v":5.62},{"x":11.5,"y":-6.5,"v":5.62},{"x":12.5,"y":-6.5,"v":5.62},{"x":13.5,"y":-6.5,"v":5.62},{"x":14.5,"y":-6.5,"v":5.62},{"x":15.5,"y":-6.5,"v":5.61},{"x":16.5,"y":-6.5,"v":5.61},{"x":17.5,"y":-6.5,"v":5.61},
{"x":-17.5,"y":-7.5,"v":5.25},{"x":-16.5,"y":-7.5,"v":5.19},{"x":-15.5,"y":-7.5,"v":5.14},{"x":-14.5,"y":-7.5,"v":5.09},{"x":-13.5,"y":-7.5,"v":5.04},{"x":-12.5,"y":-7.5,"v":4.99},{"x":-11.5,"y":-7.5,"v":4.95},{"x":-10.5,"y":-7.5,"v":4.92},{"x":-9.5,"y":-7.5,"v":4.9},{"x":-8.5,"y":-7.5,"v":4.87},{"x":-7.5,"y":-7.5,"v":4.85},{"x":-6.5,"y":-7.5,"v":4.83},{"x":-5.5,"y":-7.5,"v":4.82},{"x":-4.5,"y":-7.5,"v":4.82},{"x":-3.5,"y":-7.5,"v":4.83},{"x":-2.5,"y":-7.5,"v":4.85},{"x":-1.5,"y":-7.5,"v":4.89},{"x":-0.5,"y":-7.5,"v":4.94},{"x":0.5,"y":-7.5,"v":5.01},{"x":1.5,"y":-7.5,"v":5.11},{"x":2.5,"y":-7.5,"v":5.25},{"x":3.5,"y":-7.5,"v":5.4},{"x":4.5,"y":-7.5,"v":5.51},{"x":5.5,"y":-7.5,"v":5.57},{"x":6.5,"y":-7.5,"v":5.59},{"x":7.5,"y":-7.5,"v":5.6},{"x":8.5,"y":-7.5,"v":5.61},{"x":9.5,"y":-7.5,"v":5.61},{"x":10.5,"y":-7.5,"v":5.61},{"x":11.5,"y":-7.5,"v":5.61},{"x":12.5,"y":-7.5,"v":5.61},{"x":13.5,"y":-7.5,"v":5.61},{"x":14.5,"y":-7.5,"v":5.61},{"x":15.5,"y":-7.5,"v":5.6},{"x":16.5,"y":-7.5,"v":5.6},{"x":17.5,"y":-7.5,"v":5.6},
{"x":-17.5,"y":-8.5,"v":5.27},{"x":-16.5,"y":-8.5,"v":5.22},{"x":-15.5,"y":-8.5,"v":5.15},{"x":-14.5,"y":-8.5,"v":5.1},{"x":-13.5,"y":-8.5,"v":5.06},{"x":-12.5,"y":-8.5,"v":5.01},{"x":-11.5,"y":-8.5,"v":4.98},{"x":-10.5,"y":-8.5,"v":4.96},{"x":-9.5,"y":-8.5,"v":4.94},{"x":-8.5,"y":-8.5,"v":4.92},{"x":-7.5,"y":-8.5,"v":4.91},{"x":-6.5,"y":-8.5,"v":4.89},{"x":-5.5,"y":-8.5,"v":4.89},{"x":-4.5,"y":-8.5,"v":4.88},{"x":-3.5,"y":-8.5,"v":4.89},{"x":-2.5,"y":-8.5,"v":4.91},{"x":-1.5,"y":-8.5,"v":4.94},{"x":-0.5,"y":-8.5,"v":4.98},{"x":0.5,"y":-8.5,"v":5.04},{"x":1.5,"y":-8.5,"v":5.14},{"x":2.5,"y":-8.5,"v":5.28},{"x":3.5,"y":-8.5,"v":5.42},{"x":4.5,"y":-8.5,"v":5.51},{"x":5.5,"y":-8.5,"v":5.56},{"x":6.5,"y":-8.5,"v":5.58},{"x":7.5,"y":-8.5,"v":5.59},{"x":8.5,"y":-8.5,"v":5.6},{"x":9.5,"y":-8.5,"v":5.6},{"x":10.5,"y":-8.5,"v":5.6},{"x":11.5,"y":-8.5,"v":5.6},{"x":12.5,"y":-8.5,"v":5.6},{"x":13.5,"y":-8.5,"v":5.6},{"x":14.5,"y":-8.5,"v":5.6},{"x":15.5,"y":-8.5,"v":5.59},{"x":16.5,"y":-8.5,"v":5.59},{"x":17.5,"y":-8.5,"v":5.59},
{"x":-17.5,"y":-9.5,"v":5.3},{"x":-16.5,"y":-9.5,"v":5.24},{"x":-15.5,"y":-9.5,"v":5.16},{"x":-14.5,"y":-9.5,"v":5.11},{"x":-13.5,"y":-9.5,"v":5.07},{"x":-12.5,"y":-9.5,"v":5.03},{"x":-11.5,"y":-9.5,"v":5.0},{"x":-10.5,"y":-9.5,"v":4.99},{"x":-9.5,"y":-9.5,"v":4.98},{"x":-8.5,"y":-9.5,"v":4.96},{"x":-7.5,"y":-9.5,"v":4.95},{"x":-6.5,"y":-9.5,"v":4.95},{"x":-5.5,"y":-9.5,"v":4.94},{"x":-4.5,"y":-9.5,"v":4.94},{"x":-3.5,"y":-9.5,"v":4.94},{"x":-2.5,"y":-9.5,"v":4.95},{"x":-1.5,"y":-9.5,"v":4.98},{"x":-0.5,"y":-9.5,"v":5.01},{"x":0.5,"y":-9.5,"v":5.07},{"x":1.5,"y":-9.5,"v":5.16},{"x":2.5,"y":-9.5,"v":5.29},{"x":3.5,"y":-9.5,"v":5.43},{"x":4.5,"y":-9.5,"v":5.52},{"x":5.5,"y":-9.5,"v":5.56},{"x":6.5,"y":-9.5,"v":5.58},{"x":7.5,"y":-9.5,"v":5.59},{"x":8.5,"y":-9.5,"v":5.59},{"x":9.5,"y":-9.5,"v":5.59},{"x":10.5,"y":-9.5,"v":5.59},{"x":11.5,"y":-9.5,"v":5.59},{"x":12.5,"y":-9.5,"v":5.59},{"x":13.5,"y":-9.5,"v":5.59},{"x":14.5,"y":-9.5,"v":5.59},{"x":15.5,"y":-9.5,"v":5.59},{"x":16.5,"y":-9.5,"v":5.59},{"x":17.5,"y":-9.5,"v":5.59}
]
},
"layer": [
{
"encoding": {
"x": {"field": "x", "type": "quantitative", "scale": {"domain": [0, 1785], "nice": false, "zero": false}, "axis": null},
"y": {"field": "y", "type": "quantitative", "scale": {"domain": [0, 872], "nice": false, "zero": false, "reverse": true}, "axis": null}
},
"layer": [
{"data": {"name": "frame"}, "mark": {"type": "rect", "filled": false, "stroke": "#3c5f8e", "strokeWidth": 5.5}, "encoding": {"x2": {"field": "x2"}, "y2": {"field": "y2"}}},
{"data": {"name": "panels"}, "mark": {"type": "rect", "fill": "white", "stroke": "black", "strokeWidth": 3.5}, "encoding": {"x2": {"field": "x2"}, "y2": {"field": "y2"}}},
{"data": {"name": "shafts"}, "mark": {"type": "rect"}, "encoding": {"x2": {"field": "x2"}, "y2": {"field": "y2"}, "color": {"field": "tone", "type": "nominal", "scale": {"domain": ["blue", "red", "orange"], "range": ["#4f81bd", "#ff0000", "#e46c0a"]}, "legend": null}}},
{"data": {"name": "curve"}, "mark": {"type": "line", "strokeWidth": 15, "strokeCap": "round", "interpolate": "monotone"}, "encoding": {"color": {"field": "tone", "type": "nominal", "scale": {"domain": ["blue", "red", "orange"], "range": ["#4f81bd", "#ff0000", "#e46c0a"]}, "legend": null}}},
{"data": {"name": "heads"}, "mark": {"type": "area", "opacity": 1}, "encoding": {"y2": {"field": "y2"}, "detail": {"field": "part", "type": "nominal"}, "color": {"field": "tone", "type": "nominal", "scale": {"domain": ["blue", "red", "orange"], "range": ["#4f81bd", "#ff0000", "#e46c0a"]}, "legend": null}}},
{"data": {"name": "labels"}, "transform": [{"filter": "datum.level == 'title'"}], "mark": {"type": "text", "font": "Liberation Sans", "fontSize": 63, "fontWeight": "bold", "align": "center", "baseline": "alphabetic"}, "encoding": {"text": {"field": "text"}, "color": {"field": "tone", "type": "nominal", "scale": {"domain": ["blue", "red", "orange"], "range": ["#4f81bd", "#ff0000", "#e46c0a"]}, "legend": null}}},
{"data": {"name": "labels"}, "transform": [{"filter": "datum.level == 'detail' && datum.tone == 'blue'"}], "mark": {"type": "text", "font": "Liberation Sans", "fontSize": 47, "align": "left", "baseline": "alphabetic"}, "encoding": {"text": {"field": "text"}, "color": {"field": "tone", "type": "nominal", "scale": {"domain": ["blue", "red", "orange"], "range": ["#4f81bd", "#ff0000", "#e46c0a"]}, "legend": null}}},
{"data": {"name": "labels"}, "transform": [{"filter": "datum.level == 'detail' && datum.tone != 'blue'"}], "mark": {"type": "text", "font": "Liberation Sans", "fontSize": 47, "align": "center", "baseline": "alphabetic"}, "encoding": {"text": {"field": "text"}, "color": {"field": "tone", "type": "nominal", "scale": {"domain": ["blue", "red", "orange"], "range": ["#4f81bd", "#ff0000", "#e46c0a"]}, "legend": null}}}
]
},
{
"encoding": {
"x": {"field": "x", "type": "quantitative", "scale": {"domain": [-25.803, 91.246], "nice": false, "zero": false},
 "axis": {"orient": "bottom", "offset": -120, "values": [-18, -12, -6, 0, 6, 12, 18], "labelExpr": "datum.value < 0 ? '- ' + abs(datum.value) : '' + datum.value", "domain": false, "grid": false, "ticks": true, "tickSize": -7, "tickWidth": 4, "tickColor": "black", "labelPadding": 16, "labelFont": "Liberation Sans", "labelFontSize": 20, "labelFontWeight": "bold", "labelColor": "black", "labelFlush": false, "labelOverlap": false, "labelBound": false, "title": "X (m)", "titleX": 394, "titleY": 31, "titleAlign": "center", "titleBaseline": "top", "titleFont": "Liberation Sans", "titleFontSize": 21, "titleFontWeight": "normal", "titleColor": "black", "zindex": 1}},
"y": {"field": "y", "type": "quantitative", "scale": {"domain": [-17.895, 39.474], "nice": false, "zero": false},
 "axis": {"orient": "left", "offset": -119, "values": [-10, -5, 0, 5, 10], "labelExpr": "datum.value < 0 ? '- ' + abs(datum.value) : '' + datum.value", "domain": false, "grid": false, "ticks": true, "tickSize": -7, "tickWidth": 4, "tickColor": "black", "labelPadding": 11.4, "labelFont": "Liberation Sans", "labelFontSize": 20, "labelFontWeight": "bold", "labelColor": "black", "labelFlush": false, "labelOverlap": false, "labelBound": false, "title": "Y (m)", "titleAngle": 0, "titleX": -20, "titleY": 600, "titleAlign": "right", "titleBaseline": "middle", "titleFont": "Liberation Sans", "titleFontSize": 21, "titleFontWeight": "normal", "titleColor": "black", "zindex": 1}}
},
"layer": [
{"data": {"name": "heat"}, "mark": {"type": "rect", "width": 16, "height": 16, "strokeWidth": 0},
 "encoding": {"color": {"field": "v", "type": "quantitative", "scale": {"domain": [4, 4.25, 4.75, 5.25, 5.75, 6], "range": ["#00007f", "#0000ff", "#00ffff", "#ffff00", "#ff0000", "#7f0000"], "interpolate": "rgb"},
  "legend": {"orient": "none", "legendX": 117, "legendY": 810, "direction": "horizontal", "gradientLength": 551, "gradientThickness": 16, "gradientStrokeColor": "black", "gradientStrokeWidth": 2, "values": [4, 4.5, 5, 5.5, 6], "labelExpr": "datum.value + ''", "labelAlign": "center", "labelFont": "Liberation Sans", "labelFontSize": 21, "labelFontWeight": "bold", "labelColor": "black", "labelOffset": 5, "labelOverlap": false, "title": "- log10(T)", "titleOrient": "bottom", "titleAnchor": "middle", "titleFont": "Liberation Sans", "titleFontSize": 21, "titleFontWeight": "normal", "titleColor": "black", "titlePadding": 2, "padding": 0}}}},
{"data": {"name": "heatFrame"}, "mark": {"type": "rect", "filled": false, "stroke": "black", "strokeWidth": 3.5}, "encoding": {"x2": {"field": "x2"}, "y2": {"field": "y2"}}},
{"data": {"name": "wells"}, "transform": [{"filter": "datum.kind == 'observation'"}], "mark": {"type": "circle", "size": 121, "fill": "#7a7a7a", "stroke": "#2b2b2b", "strokeWidth": 1.5, "opacity": 1}},
{"data": {"name": "wells"}, "transform": [{"filter": "datum.kind == 'pumping'"}], "mark": {"type": "point", "shape": "triangle-up", "size": 200, "filled": true, "fill": "#a8a8a8", "stroke": "#2b2b2b", "strokeWidth": 1.5, "opacity": 1}}
]
},
{
"encoding": {
"x": {"field": "obs", "type": "quantitative", "scale": {"domain": [-0.7676, 2.4755], "reverse": true, "nice": false, "zero": false},
 "axis": {"orient": "bottom", "offset": -71.3, "values": [-0.1, -0.3, -0.5, -0.7], "labelExpr": "'-0,' + round(abs(datum.value) * 10)", "domain": false, "grid": false, "ticks": true, "tickSize": -5.5, "tickWidth": 1.5, "tickColor": "black", "labelPadding": 25, "labelFont": "Lato", "labelFontSize": 20, "labelFontWeight": "bold", "labelColor": "black", "labelFlush": false, "labelOverlap": false, "labelBound": false, "title": "Observed drawdown (m)", "titleX": 1572.8, "titleY": 62.3, "titleAlign": "center", "titleBaseline": "alphabetic", "titleFont": "Lato", "titleFontSize": 26, "titleFontWeight": "normal", "titleColor": "black", "zindex": 1}},
"y": {"field": "mod", "type": "quantitative", "scale": {"domain": [-1.6374, 0.1458], "reverse": true, "nice": false, "zero": false},
 "axis": {"orient": "left", "offset": -1362.5, "values": [-0.1, -0.3, -0.5, -0.7], "labelExpr": "'-0,' + round(abs(datum.value) * 10)", "domain": false, "grid": false, "ticks": true, "tickSize": -5.5, "tickWidth": 1.5, "tickColor": "black", "labelPadding": 24.3, "labelFont": "Lato", "labelFontSize": 20, "labelFontWeight": "bold", "labelColor": "black", "labelFlush": false, "labelOverlap": false, "labelBound": false, "title": "Modeled drawdown (m)", "titleAngle": 270, "titleX": -60.5, "titleY": 629, "titleAlign": "center", "titleBaseline": "alphabetic", "titleFont": "Lato", "titleFontSize": 28, "titleFontWeight": "normal", "titleColor": "black", "zindex": 1}}
},
"layer": [
{"data": {"name": "scatterGuides"}, "transform": [{"filter": "datum.kind == 'diag'"}], "mark": {"type": "rule", "color": "#8c8c8c", "strokeWidth": 1.2}, "encoding": {"x2": {"field": "obs2"}, "y2": {"field": "mod2"}}},
{"data": {"name": "scatterGuides"}, "transform": [{"filter": "datum.kind == 'axis'"}], "mark": {"type": "rule", "color": "black", "strokeWidth": 1.6}, "encoding": {"x2": {"field": "obs2"}, "y2": {"field": "mod2"}}},
{"data": {"name": "drawdown"}, "mark": {"type": "circle", "size": 110, "fill": "#555555", "stroke": "#1a1a1a", "strokeWidth": 1.3, "opacity": 1}}
]
}
],
"resolve": {"scale": {"x": "independent", "y": "independent", "color": "independent"}, "axis": {"x": "independent", "y": "independent"}, "legend": {"color": "independent"}}
}
